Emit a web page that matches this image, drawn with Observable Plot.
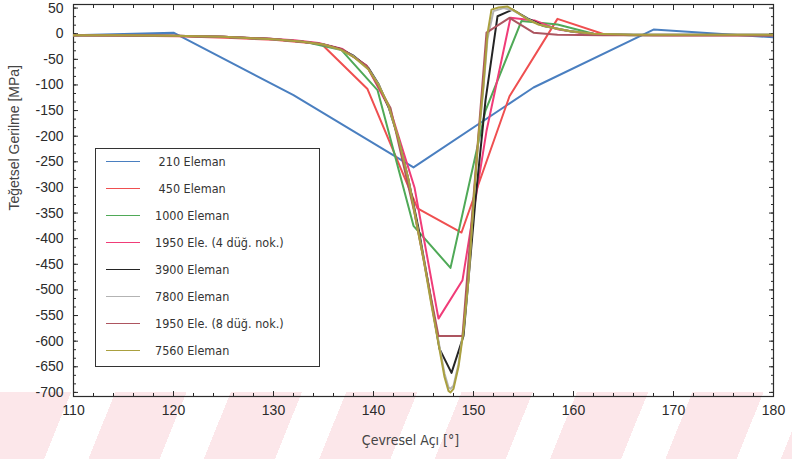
<!DOCTYPE html>
<html>
<head>
<meta charset="utf-8">
<script src="https://cdn.jsdelivr.net/npm/d3@7"></script>
<script src="https://cdn.jsdelivr.net/npm/@observablehq/plot@0.6"></script>
<style>
  html, body { margin: 0; padding: 0; background: #fff; }
  #wrap { position: relative; width: 792px; height: 459px; overflow: hidden; }
  #wm {
    position: absolute; left: 0; top: 392px; width: 792px; height: 67px;
    background: repeating-linear-gradient(112deg, #fce7ea 0px, #fce7ea 66px, #ffffff 66px, #ffffff 107px);
  }
  #chart { position: absolute; left: 0; top: 0; }
  #legend {
    position: absolute; left: 95px; top: 148px; width: 225px; height: 219px;
    box-sizing: border-box; border: 1.5px solid #333; background: #fff;
    font-family: "DejaVu Sans Condensed", "Liberation Sans Narrow", "DejaVu Sans", sans-serif;
    font-size: 12.5px; color: #333;
  }
  #legend .row { position: absolute; left: 0; height: 16px; width: 100%; }
  #legend .sw { position: absolute; left: 10px; top: 7px; width: 34px; height: 0; border-top: 1.8px solid; }
  #legend .lb { position: absolute; left: 59px; top: 0; line-height: 16px; white-space: pre; }
</style>
</head>
<body>
<div id="wrap">
  <div id="wm"></div>
  <div id="chart"></div>
  <div id="legend"></div>
</div>
<script>
// Series names (legend order) and line colours
const seriesNames = [" 210 Eleman", " 450 Eleman", "1000 Eleman", "1950 Ele. (4 düğ. nok.)",
  "3900 Eleman", "7800 Eleman", "1950 Ele. (8 düğ. nok.)", "7560 Eleman"];
const seriesColors = ["#4a7fc0", "#ef4f50", "#4fa957", "#f03c78", "#242424", "#b3b3b3", "#ad5560", "#aaa03f"];

// Circumferential angle [°] and tangential stress [MPa] for each mesh
const aci210 = [110, 120, 132, 144, 156, 168, 180];
const ger210 = [-3, 2, -120, -261, -105, 8, -7];

const aci450 = [110, 115.6, 120.4, 125.2, 130, 134.8, 139.4, 144.4, 148.8, 153.6, 158.4, 163.2, 168, 172.8, 177.6, 180];
const ger450 = [-3, -4, -5, -8, -12, -20, -108, -341, -388, -122, 29, -2, -3, -3, -3, -3];

const aci1000 = [110, 115.2, 118.8, 122.4, 126, 129.6, 133.2, 136.8, 140.4, 144.0, 147.7, 151.2, 154.8, 158.4, 162.0, 165.6, 169.2, 172.8, 176.4, 180];
const ger1000 = [-3, -3, -4, -5, -7, -10, -16, -32, -110, -375, -457, -150, 25, 18, 0, -3, -3, -3, -3, -3];

const aci1950a = [110, 115, 120, 125, 129.7, 132.1, 134.5, 136.9, 139.3, 141.7, 144.1, 146.5, 148.9, 151.3, 153.7, 156.1, 158.5, 160.9, 163.3, 170, 180];
const ger1950a = [-3, -3, -4, -6, -10, -13, -18, -30, -62, -150, -300, -556, -481, -190, 31, 26, 8, 1, -2, -3, -3];

const aci3900 = [110, 115, 120, 125, 130, 132.7, 135, 136.7, 138, 139.5, 140.5, 141.5, 142.5, 143.5, 144.5, 145.5, 146.6, 147.8, 149.0, 150.2, 151.2, 152.4, 153.9, 155.4, 157, 159.7, 162, 166, 180];
const ger3900 = [-3, -3, -4, -6, -11, -15, -21, -30, -43, -67, -98, -143, -205, -285, -380, -490, -615, -662, -590, -324, -130, 34, 47, 30, 15, 5, 0, -2, -2];

const aci7800 = [110, 115, 120, 125, 130, 132.7, 135, 136.7, 138, 139.5, 140.5, 141.5, 142.5, 143.5, 144.3, 145, 145.8, 146.5, 147.1, 147.5, 147.7, 148.0, 148.5, 149.0, 149.5, 150.0, 150.5, 151.0, 151.4, 152.0, 153.0, 154.0, 155.4, 156.5, 158, 159.7, 162, 166, 180];
const ger7800 = [-3, -3, -4, -6, -11, -15, -21, -31, -44, -69, -99, -141, -205, -287, -368, -438, -527, -600, -663, -690, -693, -687, -645, -575, -475, -330, -205, -105, -10, 44, 50, 45, 29, 18, 11, 5, 0, -2, -2];

const aci1950b = [110, 115, 120, 125, 129.7, 132.1, 134.5, 136.9, 139.3, 141.7, 144.1, 146.5, 148.9, 151.3, 153.6, 156.0, 158.4, 163, 170, 180];
const ger1950b = [-3, -3, -4, -6, -10, -14, -19, -31, -62, -145, -350, -590, -590, 2, 31, 2, -2, -3, -3, -3];

const aci7560 = [110, 115, 120, 125, 130, 132.7, 135, 136.7, 138, 139.5, 140.5, 141.5, 142.5, 143.5, 144.3, 145, 145.8, 146.5, 147.1, 147.5, 147.7, 148.0, 148.5, 149.0, 149.5, 150.0, 150.5, 151.0, 151.4, 151.8, 152.5, 153.4, 154.5, 155.4, 156.5, 158, 159.7, 162, 166, 180];
const ger7560 = [-3, -3, -4, -6, -11, -15, -21, -31, -45, -70, -100, -140, -205, -285, -370, -440, -530, -605, -670, -697, -700, -693, -650, -580, -480, -330, -200, -100, 0, 47, 51, 53, 40, 28, 18, 11, 5, 0, -2, -2];

// Axis tick values
const xMajorTicks = [110, 120, 130, 140, 150, 160, 170, 180];
const xMinorTicks = d3.range(110, 180.01, 2);
const yMajorTicks = [50, 0, -50, -100, -150, -200, -250, -300, -350, -400, -450, -500, -550, -600, -650, -700];
const yMinorTicks = d3.range(-700, 50.01, 50 / 3);

const xs = [aci210, aci450, aci1000, aci1950a, aci3900, aci7800, aci1950b, aci7560];
const ys = [ger210, ger450, ger1000, ger1950a, ger3900, ger7800, ger1950b, ger7560];

const rows = seriesNames.flatMap((name, k) =>
  xs[k].map((a, i) => ({ seri: name, aci: a, gerilme: ys[k][i] })));

const tickFont = "'Liberation Sans', Arial, sans-serif";
const titleFont = "'DejaVu Sans Condensed', 'DejaVu Sans', sans-serif";
const blank = () => "";

const chart = Plot.plot({
  width: 792,
  height: 459,
  marginLeft: 73,
  marginRight: 19,
  marginTop: 4,
  marginBottom: 63,
  style: { background: "transparent", color: "#2b2b2b", fontFamily: tickFont },
  x: { domain: [110, 180] },
  y: { domain: [-708, 57] },
  marks: [
    Plot.frame({ stroke: "#2b2b2b", strokeWidth: 1.2 }),
    // inward ticks on all four sides
    Plot.axisX({ ticks: xMajorTicks, tickSize: -5, tickPadding: 14, fontSize: 14, label: null, tickFormat: d => String(d) }),
    Plot.axisX({ ticks: xMinorTicks, tickSize: -3, label: null, tickFormat: blank }),
    Plot.axisX({ anchor: "top", ticks: xMajorTicks, tickSize: -5, label: null, tickFormat: blank }),
    Plot.axisX({ anchor: "top", ticks: xMinorTicks, tickSize: -3, label: null, tickFormat: blank }),
    Plot.axisY({ ticks: yMajorTicks, tickSize: -5, tickPadding: 15, fontSize: 14, label: null, tickFormat: d => String(d) }),
    Plot.axisY({ ticks: yMinorTicks, tickSize: -3, label: null, tickFormat: blank }),
    Plot.axisY({ anchor: "right", ticks: yMajorTicks, tickSize: -5, label: null, tickFormat: blank }),
    Plot.axisY({ anchor: "right", ticks: yMinorTicks, tickSize: -3, label: null, tickFormat: blank }),
    // stress curves, one line per mesh
    ...seriesNames.map((name, k) =>
      Plot.line(rows.filter(r => r.seri === name), {
        x: "aci", y: "gerilme", stroke: seriesColors[k], strokeWidth: 2, clip: true
      })),
    // axis titles
    Plot.text(["Çevresel Açı [°]"], {
      frameAnchor: "bottom", dy: 48, dx: -13, text: d => d,
      fontFamily: titleFont, fontSize: 14, fill: "#444"
    }),
    Plot.text(["Teğetsel Gerilme [MPa]"], {
      frameAnchor: "left", dx: -59, dy: 10, rotate: -90, text: d => d,
      fontFamily: tickFont, fontSize: 14, fill: "#444"
    })
  ]
});
document.getElementById("chart").append(chart);

// Legend box listing every mesh with its line colour
const legend = d3.select("#legend");
seriesNames.forEach((name, k) => {
  const row = legend.append("div").attr("class", "row").style("top", (5 + 27 * k) + "px");
  row.append("div").attr("class", "sw").style("border-top-color", seriesColors[k]);
  row.append("div").attr("class", "lb").text(name);
});
</script>
</body>
</html>
